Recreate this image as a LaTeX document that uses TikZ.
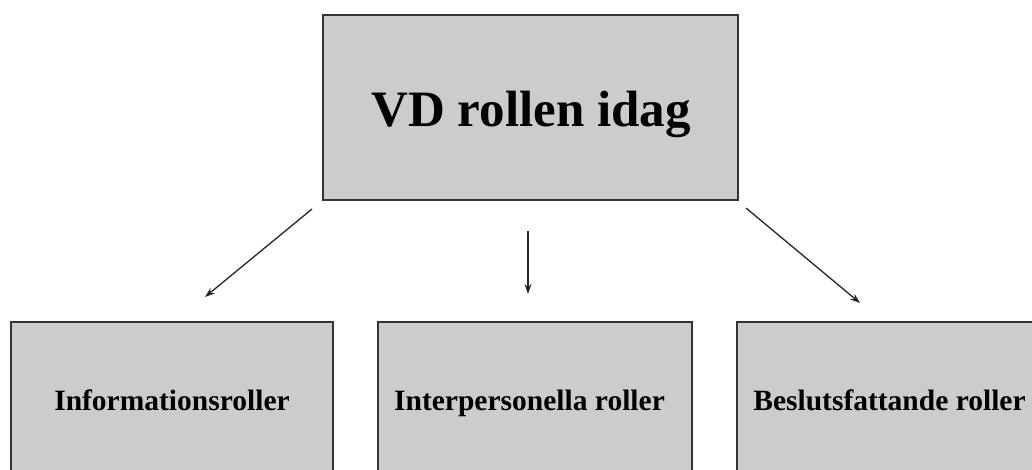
\documentclass[tikz,border=0pt]{standalone}
\usepackage{fontspec}
\setmainfont{Liberation Serif}
\usetikzlibrary{arrows.meta}
\begin{document}
\begin{tikzpicture}[x=1pt,y=-1pt,
  box/.style={draw=black!80,line width=1.4pt,fill=black!20},
  lbl/.style={font=\bfseries,anchor=base,inner sep=0pt},
  conn/.style={line width=1.3pt,draw=black!85,-{Stealth[length=10pt,width=7pt]}}]
\useasboundingbox (0,0) rectangle (1032,470);
\clip (0,0) rectangle (1032,470);
\fill[white] (0,0) rectangle (1032,470);
\draw[box] (323,15) rectangle (738,200);
\node[lbl,font=\fontsize{51}{58}\selectfont\bfseries] (top) at (531,127) {VD rollen idag};
\draw[box] (11,322) rectangle (333,490);
\draw[box] (378,322) rectangle (692,490);
\draw[box] (737,322) rectangle (1045,490);
\node[lbl,font=\fontsize{29.5}{34}\selectfont\bfseries] (l1) at (172,410) {Informationsroller};
\node[lbl,font=\fontsize{29.5}{34}\selectfont\bfseries] (l2) at (529.5,410) {Interpersonella roller};
\node[lbl,font=\fontsize{29.5}{34}\selectfont\bfseries] (l3) at (889.5,410) {Beslutsfattande roller};
\coordinate (a1s) at (312,209); \coordinate (a1e) at (205,297);
\coordinate (a2s) at (528,231); \coordinate (a2e) at (528,294);
\coordinate (a3s) at (746,208); \coordinate (a3e) at (860,303);
\draw[conn] (a1s) -- (a1e);
\draw[conn] (a2s) -- (a2e);
\draw[conn] (a3s) -- (a3e);
\end{tikzpicture}
\end{document}
